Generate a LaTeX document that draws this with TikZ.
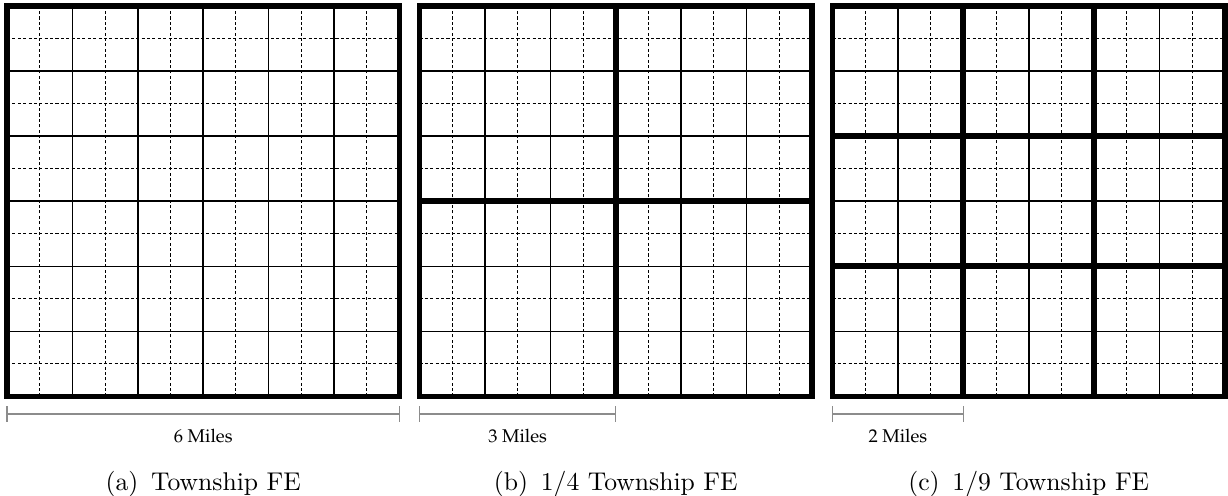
\documentclass[tikz,border=0pt]{standalone}
\begin{document}
\begin{tikzpicture}[
  x=0.39pt, y=0.39pt,
  twpborder/.style = {line width=2.3pt},
  twpsect/.style = {line width=0.6pt},
  twpquarter/.style = {line width=0.4pt, dash pattern=on 1.2pt off 0.9pt},
  twpscale/.style = {line width=0.4pt, black!45},
  twpmiles/.style = {anchor=base,
    font=\fontencoding{OT1}\fontfamily{ppl}\fontsize{7.2}{8.5}\selectfont},
  twpcap/.style = {anchor=base, font=\normalsize}
]
  \useasboundingbox (0,0) rectangle (1228,495);
  \foreach \ox/\k/\mi/\cp in {7/1/6/{(a)\hspace{0.5em}Township FE},
      419.5/2/3/{(b)\hspace{0.5em}1/4 Township FE},
      832.5/3/2/{(c)\hspace{0.5em}1/9 Township FE}} {
    \begin{scope}[shift={(\ox,98.5)}]
      % quarter sections
      \foreach \i in {1,3,...,11} {
        \draw[twpquarter] (\i*392.5/12,0) -- (\i*392.5/12,390.5);
        \draw[twpquarter] (0,\i*390.5/12) -- (392.5,\i*390.5/12);
      }
      % sections
      \foreach \i in {2,4,...,10} {
        \draw[twpsect] (\i*392.5/12,0) -- (\i*392.5/12,390.5);
        \draw[twpsect] (0,\i*390.5/12) -- (392.5,\i*390.5/12);
      }
      % FE blocks
      \foreach \j in {1,...,\k} {
        \draw[twpborder] (\j*392.5/\k,0) -- (\j*392.5/\k,390.5);
        \draw[twpborder] (0,\j*390.5/\k) -- (392.5,\j*390.5/\k);
      }
      \draw[twpborder] (0,0) rectangle (392.5,390.5);
      % scale bar
      \coordinate (bar\k L) at (0,-17.5);
      \coordinate (bar\k R) at (392.5/\k,-17.5);
      \draw[twpscale] (bar\k L) -- (bar\k R);
      \draw[twpscale] (bar\k L) ++(0,8) -- ++(0,-16);
      \draw[twpscale] (bar\k R) ++(0,8) -- ++(0,-16);
      \node[twpmiles] (miles\k) at (196.25/\k,-46) {\mi~Miles};
      % caption
      \node[twpcap] (cap\k) at (196.25,-94) {\cp};
    \end{scope}
  }
\end{tikzpicture}
\end{document}
